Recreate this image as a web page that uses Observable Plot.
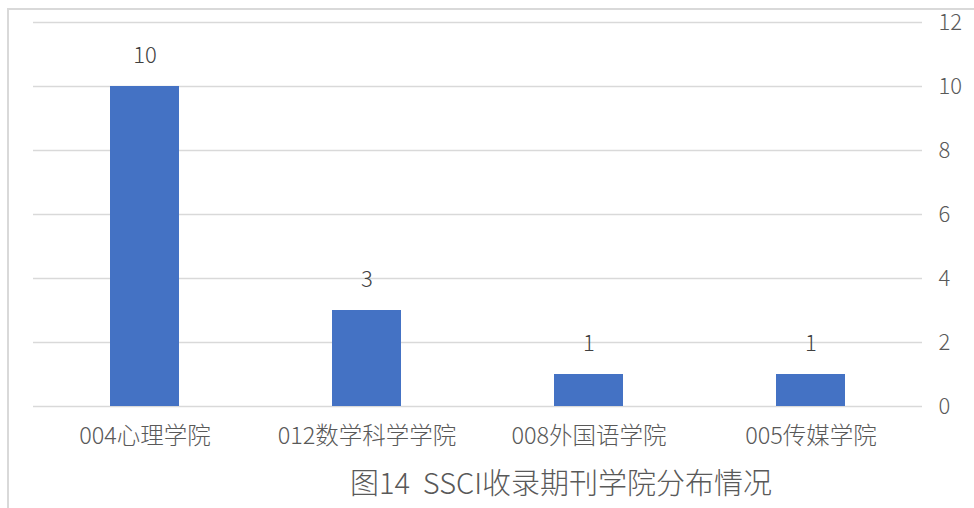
<!DOCTYPE html>
<html>
<head>
<meta charset="utf-8">
<script src="https://cdn.jsdelivr.net/npm/d3@7"></script>
<script src="https://cdn.jsdelivr.net/npm/@observablehq/plot@0.6"></script>
<style>
  html, body { margin: 0; padding: 0; background: #fff; overflow: hidden; }
  #wrap { position: relative; width: 974px; height: 508px; }
  #border { position: absolute; left: 7px; top: 8px; width: 1200px; height: 800px;
            border-top: 2px solid #d9d9d9; border-left: 2px solid #d9d9d9; box-sizing: border-box; }
  #chart { position: absolute; left: 0; top: 0; }
</style>
</head>
<body>
<div id="wrap"><div id="border"></div><div id="chart"></div></div>
<script>
const categories = ["004心理学院", "012数学科学学院", "008外国语学院", "005传媒学院"];
const counts = [10, 3, 1, 1];
const yTicks = [0, 2, 4, 6, 8, 10, 12];
const title = "图14  SSCI收录期刊学院分布情况";

const data = categories.map((c, i) => ({college: c, count: counts[i]}));
const font = "'Noto Sans CJK SC', 'Noto Sans', sans-serif";

const chart = Plot.plot({
  width: 974,
  height: 508,
  marginLeft: 33,
  marginRight: 52,
  marginTop: 22,
  marginBottom: 102,
  style: {fontFamily: font, fontSize: "22px", fontWeight: 300, color: "#595959", background: "transparent"},
  x: {domain: categories, paddingInner: 0.69, paddingOuter: 0.345, label: null},
  y: {domain: [0, 12], label: null},
  marks: [
    Plot.gridY(yTicks, {stroke: "#d9d9d9", strokeOpacity: 1, strokeWidth: 1.3}),
    Plot.barY(data, {x: "college", y: "count", fill: "#4472C4"}),
    Plot.text(data, {x: "college", y: "count", text: d => String(d.count), dy: -31, fill: "#404040", fontSize: 22, fontWeight: 300}),
    Plot.axisY(yTicks, {anchor: "right", tickSize: 0, tickPadding: 16, textAnchor: "start", fill: "#595959", fontSize: 22, fontWeight: 300, label: null}),
    Plot.axisX({tickSize: 0, tickPadding: 21, fill: "#595959", fontSize: 23.5, fontWeight: 300, label: null}),
    Plot.text([title], {frameAnchor: "bottom", dx: 83, dy: 87, fill: "#595959", fontSize: 29, fontWeight: 300})
  ]
});
document.getElementById("chart").appendChild(chart);
</script>
</body>
</html>
